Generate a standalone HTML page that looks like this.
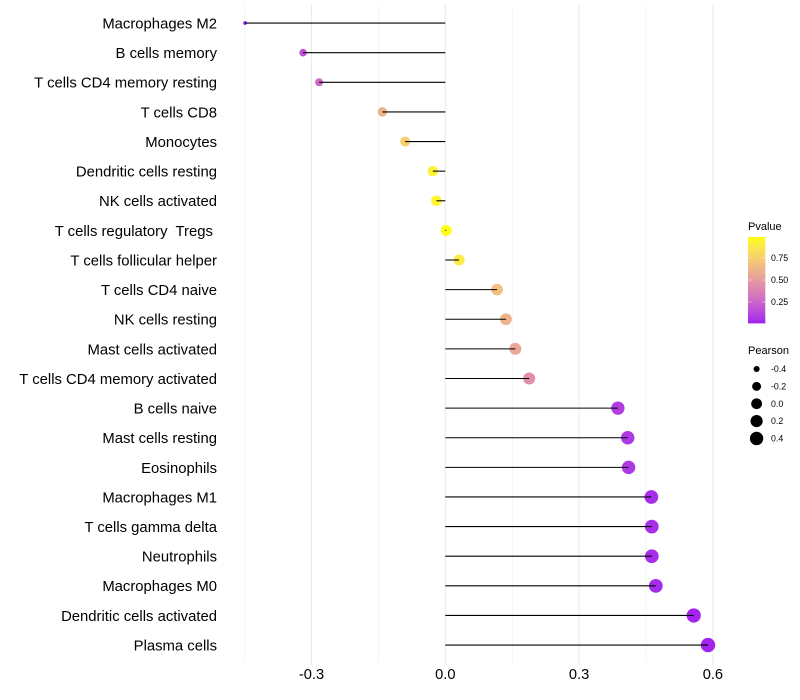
<!DOCTYPE html>
<html>
<head>
<meta charset="utf-8">
<title>Immune cell correlation lollipop chart</title>
<style>
  html, body { margin: 0; padding: 0; background: #fff; }
  svg { display: block; font-family: "Liberation Sans", Arial, sans-serif; }
</style>
</head>
<body>
<svg id="chart" xmlns="http://www.w3.org/2000/svg" width="800" height="700" viewBox="0 0 800 700">
  <defs>
    <linearGradient id="pvalue-gradient" x1="0" y1="1" x2="0" y2="0"></linearGradient>
  </defs>
  <rect x="0" y="0" width="800" height="700" fill="#ffffff"></rect>
</svg>
<script>
const categories = ["Macrophages M2","B cells memory","T cells CD4 memory resting","T cells CD8","Monocytes","Dendritic cells resting","NK cells activated","T cells regulatory  Tregs ","T cells follicular helper","T cells CD4 naive","NK cells resting","Mast cells activated","T cells CD4 memory activated","B cells naive","Mast cells resting","Eosinophils","Macrophages M1","T cells gamma delta","Neutrophils","Macrophages M0","Dendritic cells activated","Plasma cells"];
const pearsonValues = [-0.449,-0.319,-0.283,-0.141,-0.09,-0.028,-0.02,0.002,0.031,0.116,0.136,0.157,0.188,0.387,0.409,0.411,0.462,0.463,0.463,0.472,0.557,0.589];
const pValues = [0.0,0.17,0.27,0.62,0.76,0.93,0.95,0.99,0.9,0.68,0.62,0.56,0.44,0.09,0.07,0.07,0.04,0.04,0.04,0.03,0.01,0.01];
const xTicks = [-0.3,0,0.3,0.6];
const xTickLabels = ["-0.3","0.0","0.3","0.6"];
const xMinorTicks = [-0.45,-0.15,0.15,0.45];
const colorTicks = [0.75,0.5,0.25];
const colorTickLabels = ["0.75","0.50","0.25"];
const sizeTicks = [-0.4,-0.2,0,0.2,0.4];
const sizeTickLabels = ["-0.4","-0.2","0.0","0.2","0.4"];

const svg = document.getElementById('chart');
const NS = 'http://www.w3.org/2000/svg';

function make(tag, attrs, parent) {
  const el = document.createElementNS(NS, tag);
  for (const k in attrs) el.setAttribute(k, attrs[k]);
  (parent || svg).appendChild(el);
  return el;
}

function xScale(v) { return 445.3 + v * 446; }
function yScale(i) { return 23.05 + i * (645.07 - 23.05) / (categories.length - 1); }
function legendY(p) { return 324 - p * 88; }
function radius(v) {
  const lo = Math.min.apply(null, pearsonValues);
  const hi = Math.max.apply(null, pearsonValues);
  return 1.9 + 5.3 * Math.sqrt((v - lo) / (hi - lo));
}

function toLab(rgb) {
  const c = rgb.map(function (u) {
    u /= 255;
    return u > 0.04045 ? Math.pow((u + 0.055) / 1.055, 2.4) : u / 12.92;
  });
  const x = (0.4124 * c[0] + 0.3576 * c[1] + 0.1805 * c[2]) / 0.95047;
  const y = 0.2126 * c[0] + 0.7152 * c[1] + 0.0722 * c[2];
  const z = (0.0193 * c[0] + 0.1192 * c[1] + 0.9505 * c[2]) / 1.08883;
  const f = function (t) { return t > 0.008856 ? Math.cbrt(t) : 7.787 * t + 16 / 116; };
  return [116 * f(y) - 16, 500 * (f(x) - f(y)), 200 * (f(y) - f(z))];
}
function fromLab(lab) {
  const fy = (lab[0] + 16) / 116, fx = lab[1] / 500 + fy, fz = fy - lab[2] / 200;
  const g = function (t) { return t * t * t > 0.008856 ? t * t * t : (t - 16 / 116) / 7.787; };
  const x = g(fx) * 0.95047, y = g(fy), z = g(fz) * 1.08883;
  const lin = [3.2406 * x - 1.5372 * y - 0.4986 * z, -0.9689 * x + 1.8758 * y + 0.0415 * z, 0.0557 * x - 0.204 * y + 1.057 * z];
  return 'rgb(' + lin.map(function (u) {
    u = Math.max(0, Math.min(1, u));
    u = u > 0.0031308 ? 1.055 * Math.pow(u, 1 / 2.4) - 0.055 : 12.92 * u;
    return Math.round(u * 255);
  }).join(',') + ')';
}
const labLow = toLab([160, 32, 240]);
const labHigh = toLab([255, 255, 0]);
function colorScale(p) {
  const t = Math.max(0, Math.min(1, p));
  return fromLab(labLow.map(function (a, i) { return a + (labHigh[i] - a) * t; }));
}

/* grid */
const gridGroup = make('g', {});


xMinorTicks.forEach(function (v) {
  const l = make('line', { x1: xScale(v), x2: xScale(v), y1: 5, y2: 662, stroke: '#ebebeb', 'stroke-width': 0.55 }, gridGroup);
  
  
});
xTicks.forEach(function (v) {
  const l = make('line', { x1: xScale(v), x2: xScale(v), y1: 5, y2: 665, stroke: '#ebebeb', 'stroke-width': 1.07 }, gridGroup);
  
  
});

/* points */
const pointGroup = make('g', {});


categories.forEach(function (c, i) {
  const pt = make('circle', { cx: xScale(pearsonValues[i]), cy: yScale(i), r: radius(pearsonValues[i]), fill: colorScale(pValues[i]) }, pointGroup);
  
  
});

/* stems */
const stemGroup = make('g', {});


categories.forEach(function (c, i) {
  const st = make('line', { x1: xScale(0), x2: xScale(pearsonValues[i]), y1: yScale(i), y2: yScale(i), stroke: '#000000', 'stroke-width': 1.07 }, stemGroup);
  
  
});

/* y labels */
const yLabelGroup = make('g', {});


categories.forEach(function (c, i) {
  const t = make('text', { x: 217, y: yScale(i) + 5.4, 'text-anchor': 'end', 'font-size': 14.85, fill: '#000000', 'xml:space': 'preserve', style: 'white-space:pre' }, yLabelGroup);
  t.textContent = c;
  
  
});

/* x labels */
const xLabelGroup = make('g', {});


xTicks.forEach(function (v, i) {
  const t = make('text', { x: xScale(v), y: 679, 'text-anchor': 'middle', 'font-size': 14.67, fill: '#000000' }, xLabelGroup);
  t.textContent = xTickLabels[i];
  
  
});

/* colour legend */
const grad = document.getElementById('pvalue-gradient');
for (let s = 0; s <= 20; s++) {
  const stop = make('stop', { offset: (s * 5) + '%', 'stop-color': colorScale(s / 20) }, grad);
}
const colorLegend = make('g', {});


const colorTitle = make('text', { x: 748, y: 230, 'font-size': 11, fill: '#000000' }, colorLegend);
colorTitle.textContent = 'Pvalue';


const colorBar = make('rect', { x: 748, y: 237, width: 17.3, height: 86.4, fill: 'url(#pvalue-gradient)' }, colorLegend);


colorTicks.forEach(function (p, i) {
  const y = legendY(p);
  [[748, 751.5], [761.8, 765.3]].forEach(function (seg) {
    const tk = make('line', { x1: seg[0], x2: seg[1], y1: y, y2: y, stroke: '#ffffff', 'stroke-width': 0.55, 'stroke-opacity': 0.8 }, colorLegend);
    
    
  });
  const t = make('text', { x: 771, y: y + 3.1, 'font-size': 8.8, fill: '#000000' }, colorLegend);
  t.textContent = colorTickLabels[i];
  
  
});

/* size legend */
const sizeLegend = make('g', {});


const sizeTitle = make('text', { x: 748, y: 354, 'font-size': 11, fill: '#000000' }, sizeLegend);
sizeTitle.textContent = 'Pearson';


sizeTicks.forEach(function (v, i) {
  const y = 369 + i * 17.37;
  const k = make('circle', { cx: 756.6, cy: y, r: radius(v), fill: '#000000' }, sizeLegend);
  
  
  const t = make('text', { x: 771, y: y + 3.1, 'font-size': 8.8, fill: '#000000' }, sizeLegend);
  t.textContent = sizeTickLabels[i];
  
  
});
</script>
</body>
</html>
